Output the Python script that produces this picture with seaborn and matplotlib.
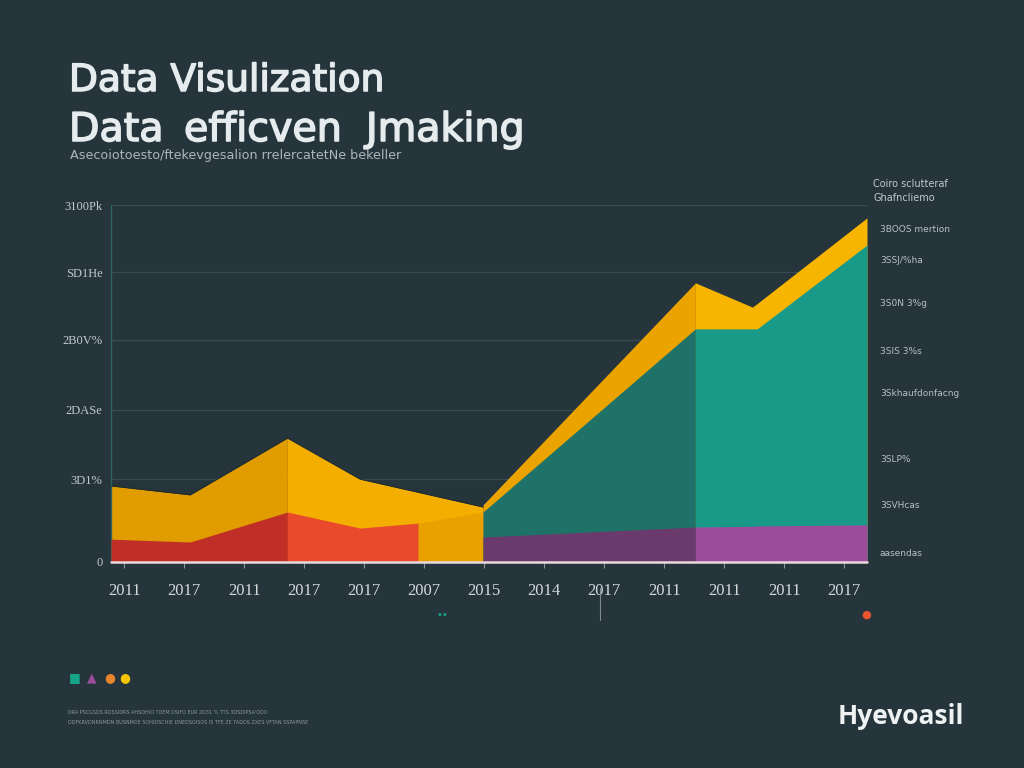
import numpy as np
import matplotlib
matplotlib.use("Agg")
import matplotlib.pyplot as plt
import matplotlib.patheffects as pe
import seaborn as sns
from matplotlib.lines import Line2D

# ---- data ----
years = ["2011", "2017", "2011", "2017", "2017", "2007", "2015",
         "2014", "2017", "2011", "2011", "2011", "2017"]
y_ticks = [0, 23.2, 42.6, 62.2, 81.2, 100]
y_labels = ["0", "3D1%", "2DASe", "2B0V%", "SD1He", "3100Pk"]

# left block (x in year-index units)
left_x = [-0.22, 1.10, 2.72, 3.93, 5.98]
left_yellow = [21.3, 18.8, 34.7, 23.2, 15.4]
red_x = [-0.22, 1.10, 2.72, 3.93, 4.90]
red_top = [6.4, 5.6, 14.0, 9.5, 10.9]
block_x = [4.90, 5.98]
block_top = [10.9, 14.0]

# right block
right_x = [5.98, 9.52, 10.47, 10.55, 12.38]
right_yellow = [16.0, 78.2, 71.4, 72.4, 96.4]
teal_top = [14.0, 65.3, 65.3, 65.3, 88.8]
purple_top = [7.0, 9.8, 10.0, 10.1, 10.4]

split_left = 2.72
split_right = 9.52

side_labels = ["3BOOS mertion", "3SSJ/%ha", "3S0N 3%g", "3SIS 3%s",
               "3Skhaufdonfacng", "3SLP%", "3SVHcas", "aasendas"]
side_y = [229, 260, 304, 351, 393, 459, 506, 553]

BG = "#25353b"
TXT = "#c3c9cc"

sns.set_theme(style="dark", rc={"axes.facecolor": BG, "figure.facecolor": BG})
plt.rcParams["font.family"] = ["DejaVu Sans"]

fig = plt.figure(figsize=(10.24, 7.68), dpi=100)
ax = fig.add_axes([111 / 1024, 1 - 562 / 768, (867 - 111) / 1024, (562 - 205) / 768])
ax.set_facecolor(BG)

for v in y_ticks[1:]:
    ax.axhline(v, color="#3a4b51", lw=0.9, zorder=0)

lx = np.array(left_x)
rx = np.array(right_x)
rdx = np.array(red_x)

# yellow / orange left area
ax.fill_between(lx, 0, left_yellow, where=lx <= split_left, color="#e19c00", lw=0, zorder=2)
ax.fill_between(lx, 0, left_yellow, where=lx >= split_left, color="#f4ae00", lw=0, zorder=2)
ax.plot(lx, left_yellow, color="#1d2a2e", lw=0.6, zorder=3)
# red
ax.fill_between(rdx, 0, red_top, where=rdx <= split_left, color="#c02f27", lw=0, zorder=4)
ax.fill_between(rdx, 0, red_top, where=rdx >= split_left, color="#ea4a2c", lw=0, zorder=4)
ax.fill_between(block_x, 0, block_top, color="#e8a100", lw=0, zorder=4)

# right area
ax.fill_between(rx, 0, right_yellow, where=rx <= split_right, color="#eba300", lw=0, zorder=2)
ax.fill_between(rx, 0, right_yellow, where=rx >= split_right, color="#f8b500", lw=0, zorder=2)
ax.fill_between(rx, 0, teal_top, where=rx <= split_right, color="#1e7268", lw=0, zorder=4)
ax.fill_between(rx, 0, teal_top, where=rx >= split_right, color="#199a88", lw=0, zorder=4)
ax.fill_between(rx, 0, purple_top, where=rx <= split_right, color="#6b3a6c", lw=0, zorder=5)
ax.fill_between(rx, 0, purple_top, where=rx >= split_right, color="#9c4c9b", lw=0, zorder=5)

ax.axhline(0, color="#e9d9de", lw=1.8, zorder=6, clip_on=False)

ax.set_xlim(-0.22, 12.38)
ax.set_ylim(0, 100)
ax.set_xticks(range(len(years)))
ax.set_xticklabels(years, family="Liberation Serif", fontsize=12, color="#d6dadc")
ax.set_yticks(y_ticks)
ax.set_yticklabels(y_labels, family="Liberation Serif", fontsize=9, color=TXT)
ax.tick_params(axis="x", length=4, width=0.8, color="#8a9599", pad=11, direction="out", bottom=True)
ax.tick_params(axis="y", length=0, pad=6)
for s in ["top", "right", "bottom"]:
    ax.spines[s].set_visible(False)
ax.spines["left"].set_color("#2d6660")
ax.spines["left"].set_linewidth(1)
ax.spines["left"].set_bounds(0, 100)
ax.grid(False)

# titles
thick = [pe.withStroke(linewidth=1.1, foreground="#e6ecee")]
fig.text(69 / 1024, 1 - 91 / 768, "Data Visulization", fontsize=27, color="#e6ecee",
         va="baseline", path_effects=thick)
for word, px in [("Data", 69), ("efficven", 184), ("Jmaking", 366)]:
    fig.text(px / 1024, 1 - 141 / 768, word, fontsize=28.5, color="#e6ecee",
             va="baseline", path_effects=thick)
fig.text(70 / 1024, 1 - 155 / 768, "Asecoiotoesto/ftekevgesalion rrelercatetNe bekeller",
         fontsize=9.2, color="#aeb6ba", va="center")

# side labels
fig.text(873 / 1024, 1 - 184 / 768, "Coiro sclutteraf", fontsize=7, color=TXT, va="center")
fig.text(873 / 1024, 1 - 198 / 768, "Ghafncliemo", fontsize=7, color=TXT, va="center")
for lab, py in zip(side_labels, side_y):
    fig.text(880 / 1024, 1 - py / 768, lab, fontsize=6.5, color="#b8bfc2", va="center")

# decorations below the chart
fig.text(442 / 1024, 1 - 615 / 768, "••", fontsize=7, color="#17a589", ha="center", va="center")
fig.text(866 / 1024, 1 - 615 / 768, "●", fontsize=8, color="#e8552e", ha="center", va="center")
fig.add_artist(Line2D([600 / 1024, 600 / 1024], [1 - 588 / 768, 1 - 620 / 768],
                      color="#7f8a8e", lw=0.8))

for ch, col, px in [("■", "#17a589", 75), ("▲", "#9c4c9b", 92), ("●", "#e8862e", 110), ("●", "#f4c400", 125)]:
    fig.text(px / 1024, 1 - 678 / 768, ch, fontsize=9, color=col, ha="center", va="center")
fig.text(68 / 1024, 1 - 713 / 768, "DRA PSCGSDS RDSSIDRS AHSOHIO TOEM DSIFO EUR 2D31 % TTS 3DSDIPSA'ODO",
         fontsize=3.5, color="#8d979b", va="center")
fig.text(68 / 1024, 1 - 722 / 768, "DDFKRVDNRNMDN BUSNMOE SOHIDSCHIE DNEDSOISOS IS TFE ZE TADOS ZXES VFTAN SSPAPNSE",
         fontsize=3.5, color="#8d979b", va="center")

fig.text(901 / 1024, 1 - 716 / 768, "Hyevoasil", fontsize=19, color="#eef2f3",
         family="Open Sans", weight="bold", ha="center", va="center")

fig.savefig("out.png", dpi=100, facecolor=BG)
